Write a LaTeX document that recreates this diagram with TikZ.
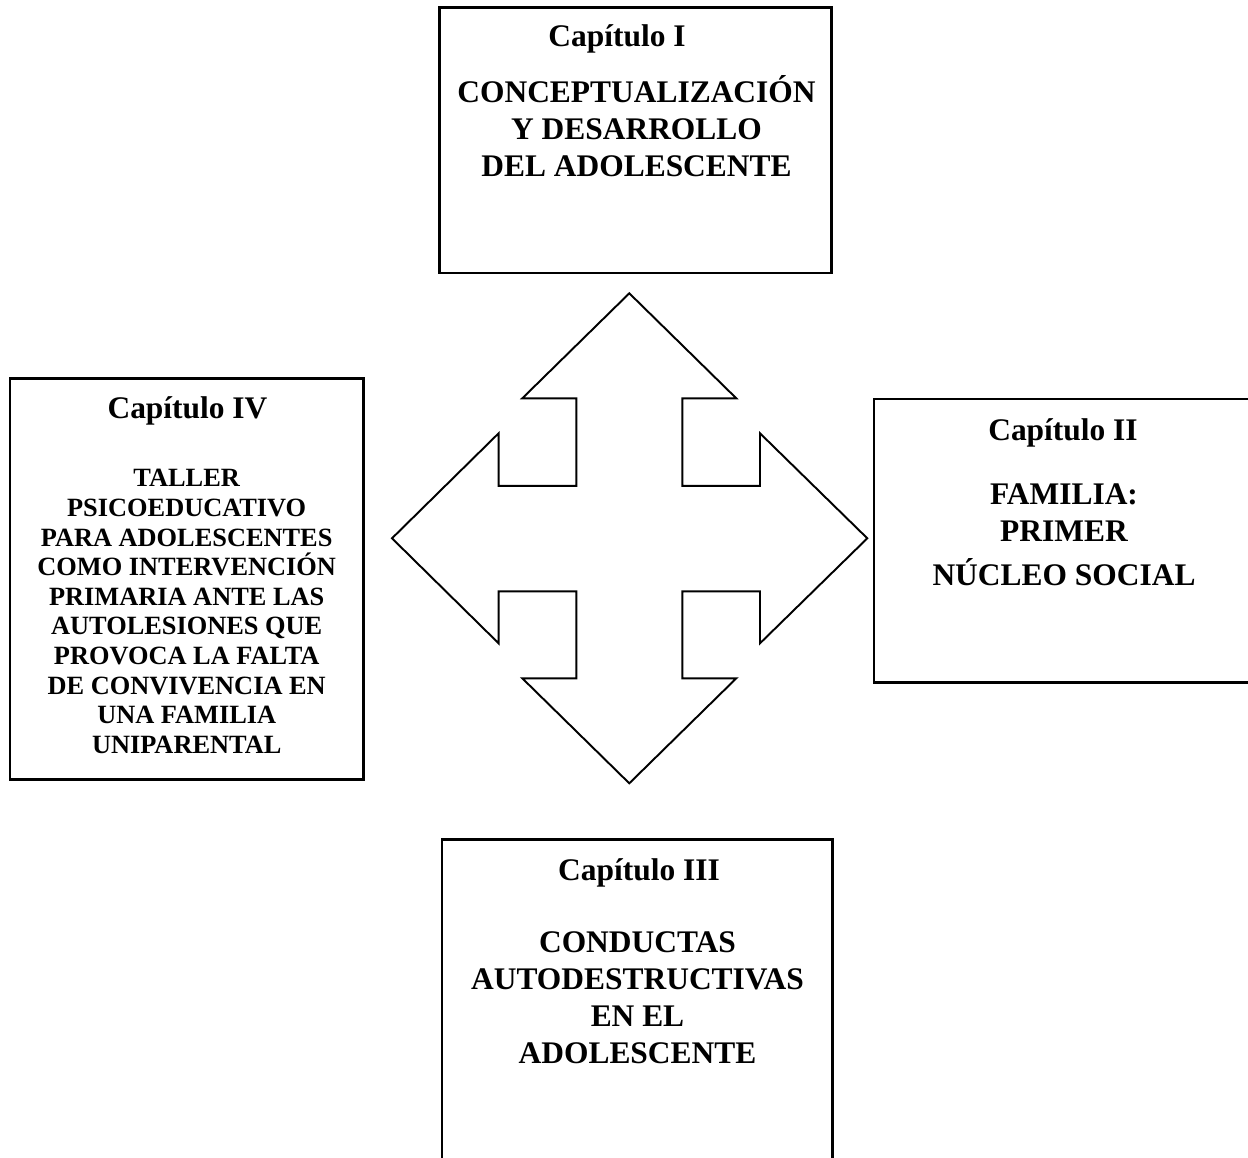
\documentclass[tikz,border=0pt]{standalone}
\usepackage{fontspec}
\setmainfont{Liberation Serif}

\tikzset{
  chapter/.style = {rectangle, draw, line width=1.4pt, inner sep=0pt},
  chaptitle/.style = {anchor=base, inner sep=0pt,
    font=\fontsize{17.9}{21}\selectfont\bfseries},
  % multi-line text: base is the baseline of the last line
  chaptext/.style = {anchor=base, inner sep=0pt, align=center,
    font=\fontsize{17.9}{21}\selectfont\bfseries},
  chaptext-small/.style = {chaptext,
    font=\fontsize{15}{16.85}\selectfont\bfseries},
  quad-arrow/.style = {draw, line width=1.1pt, line join=miter}
}

\begin{document}
\begin{tikzpicture}[x=0.02cm, y=-0.02cm]
\useasboundingbox (0,0) rectangle (1248,1157);

% chapter boxes
\node[chapter, minimum width=7.85cm, minimum height=5.31cm] (cap1) at (635.5,140) {};
\node[chapter, minimum width=7.56cm, minimum height=5.67cm] (cap2) at (1063,540.9) {};
\node[chapter, minimum width=7.82cm, minimum height=6.45cm] (cap3) at (637.2,1000.7) {};
\node[chapter, minimum width=7.07cm, minimum height=8.02cm] (cap4) at (186.7,578.8) {};

% titles
\node[chaptitle] (cap1-title) at (617,46.7) {Capítulo I};
\node[chaptitle] (cap2-title) at (1063,440) {Capítulo II};
\node[chaptitle] (cap3-title) at (639,880) {Capítulo III};
\node[chaptitle] (cap4-title) at (187.5,418.3) {Capítulo IV};

% contents
\node[chaptext] (cap1-text) at (636.5,176.7)
  {CONCEPTUALIZACIÓN\\Y DESARROLLO\\DEL ADOLESCENTE};
\node[chaptext] (cap2-text) at (1064,585)
  {FAMILIA:\\PRIMER\\[0.13cm]NÚCLEO SOCIAL};
\node[chaptext] (cap3-text) at (637.5,1063.3)
  {CONDUCTAS\\AUTODESTRUCTIVAS\\EN EL\\ADOLESCENTE};
\node[chaptext-small] (cap4-text) at (186.7,753.3)
  {TALLER\\PSICOEDUCATIVO\\PARA ADOLESCENTES\\COMO INTERVENCIÓN\\PRIMARIA ANTE LAS\\AUTOLESIONES QUE\\PROVOCA LA FALTA\\DE CONVIVENCIA EN\\UNA FAMILIA\\UNIPARENTAL};

% four-way arrow in the middle
\draw[quad-arrow, shift={(629.3,538.3)}]
  (0,-245) -- (107,-140) -- (53,-140) -- (53,-52.5) -- (130.7,-52.5)
  -- (130.7,-105) -- (238,0) -- (130.7,105) -- (130.7,53) -- (53,53)
  -- (53,140) -- (107,140) -- (0,245) -- (-107,140) -- (-53,140)
  -- (-53,53) -- (-130.7,53) -- (-130.7,105) -- (-237.3,0)
  -- (-130.7,-105) -- (-130.7,-52.5) -- (-53,-52.5) -- (-53,-140)
  -- (-107,-140) -- cycle;
\end{tikzpicture}
\end{document}
